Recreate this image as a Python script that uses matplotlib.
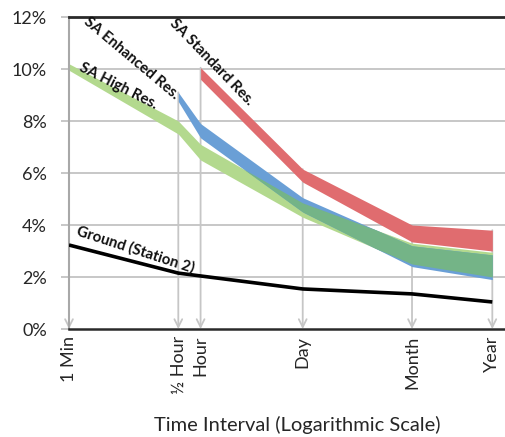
import numpy as np
import matplotlib
matplotlib.use("Agg")
import matplotlib.pyplot as plt

plt.rcParams['font.family'] = ['Lato', 'DejaVu Sans']

# ---- data (time in minutes, values in %) ----
tick_minutes = [1, 30, 60, 1440, 43200, 525600]
tick_labels = ['1 Min', '½ Hour', 'Hour', 'Day', 'Month', 'Year']

high_x = [1, 30, 60, 1440, 43200, 525600]
high_lo = [9.95, 7.5, 6.5, 4.3, 2.5, 2.0]
high_hi = [10.2, 8.0, 7.1, 4.85, 3.3, 2.95]

enh_x = [30, 60, 1440, 43200, 525600]
enh_lo = [8.75, 7.35, 4.5, 2.4, 1.9]
enh_hi = [9.1, 7.9, 5.05, 3.2, 2.85]

std_x = [60, 1440, 43200, 525600]
std_lo = [9.6, 5.65, 3.35, 3.0]
std_hi = [10.05, 6.15, 4.0, 3.8]

ground_x = [1, 30, 60, 1440, 43200, 525600]
ground_y = [3.23, 2.15, 2.04, 1.54, 1.35, 1.04]

yticks = [0, 2, 4, 6, 8, 10, 12]

C_RED = '#e06c6f'
C_BLUE = '#6a9fd6'
C_GREEN = '#b3d98e'
C_BG = '#74b487'   # blue/green overlap
C_RG = '#d6c274'   # red/green overlap

fig = plt.figure(figsize=(5.06, 4.37), dpi=100)
ax = fig.add_axes([69/506, 1-329/437, (505-69)/506, (329-17)/437])
ax.set_xscale('log')
ax.set_xlim(1, 780000)
ax.set_ylim(0, 12)


def dense(x, lo, hi, n=300):
    lx = np.linspace(np.log10(x[0]), np.log10(x[-1]), n)
    return (10**lx,
            np.interp(lx, np.log10(x), lo),
            np.interp(lx, np.log10(x), hi))


def overlap(a, b, n=300):
    (xa, la, ha), (xb, lb, hb) = a, b
    start = max(xa[0], xb[0]); end = min(xa[-1], xb[-1])
    lx = np.linspace(np.log10(start), np.log10(end), n)
    l1 = np.interp(lx, np.log10(xa), la); h1 = np.interp(lx, np.log10(xa), ha)
    l2 = np.interp(lx, np.log10(xb), lb); h2 = np.interp(lx, np.log10(xb), hb)
    lo = np.maximum(l1, l2); hi = np.minimum(h1, h2)
    return 10**lx, lo, hi, hi > lo


# gridlines
for v in yticks[1:-1]:
    ax.axhline(v, color='#c3c3c3', lw=1.3, zorder=0)

# drop lines with arrowheads
tops = {}
for xs, his in [(high_x, high_hi), (enh_x, enh_hi), (std_x, std_hi)]:
    for xv, hv in zip(xs, his):
        tops[xv] = max(tops.get(xv, 0), hv)
for xv in tick_minutes:
    ax.annotate('', xy=(xv, 0.0), xytext=(xv, tops[xv]),
                arrowprops=dict(arrowstyle='->', color='#c6c6c6', lw=1.3,
                                mutation_scale=14, shrinkA=0, shrinkB=0),
                zorder=1)

# bands
hd = dense(high_x, high_lo, high_hi)
ed = dense(enh_x, enh_lo, enh_hi)
sd = dense(std_x, std_lo, std_hi)
ax.fill_between(hd[0], hd[1], hd[2], color=C_GREEN, lw=0, zorder=2)
ax.fill_between(ed[0], ed[1], ed[2], color=C_BLUE, lw=0, zorder=3)
ox, olo, ohi, ow = overlap((high_x, high_lo, high_hi), (enh_x, enh_lo, enh_hi))
ax.fill_between(ox, olo, ohi, where=ow, color=C_BG, lw=0, zorder=4)
ax.fill_between(sd[0], sd[1], sd[2], color=C_RED, lw=0, zorder=5)
ox, olo, ohi, ow = overlap((high_x, high_lo, high_hi), (std_x, std_lo, std_hi))
ax.fill_between(ox, olo, ohi, where=ow, color=C_RG, lw=0, zorder=6)

# ground line
ax.plot(ground_x, ground_y, color='black', lw=2.6, zorder=7,
        solid_capstyle='butt')

# series labels
lab_kw = dict(fontsize=10.8, fontweight='bold', ha='center', va='center',
              rotation_mode='anchor', zorder=8, color='#111111')
ax.text(7.0, 10.4, 'SA Enhanced Res.', rotation=-40, **lab_kw)
ax.text(83, 10.27, 'SA Standard Res.', rotation=-46, **lab_kw)
ax.text(4.7, 9.33, 'SA High Res.', rotation=-27, **lab_kw)
ax.text(8.0, 3.04, 'Ground (Station 2)', rotation=-18, **lab_kw)

# axes styling
ax.set_yticks(yticks)
ax.set_yticklabels([f'{v}%' for v in yticks], fontsize=13, color='#262626')
ax.tick_params(axis='y', length=6, width=1.3, color='#c3c3c3', pad=10)
ax.set_xticks(tick_minutes)
ax.set_xticklabels(tick_labels, rotation=90, fontsize=13, color='#262626')
ax.xaxis.set_minor_locator(matplotlib.ticker.NullLocator())
ax.tick_params(axis='x', length=0, pad=5)

ax.spines['right'].set_visible(False)
ax.spines['top'].set_color('#2a2a2a'); ax.spines['top'].set_linewidth(2)
ax.spines['bottom'].set_color('#2a2a2a'); ax.spines['bottom'].set_linewidth(1.8)
ax.spines['left'].set_color('#a8a8a8'); ax.spines['left'].set_linewidth(1.5)

fig.text(297/506, 1-425/437, 'Time Interval (Logarithmic Scale)',
         fontsize=14.5, ha='center', va='center', color='#262626')

fig.savefig('out.png', dpi=100)
